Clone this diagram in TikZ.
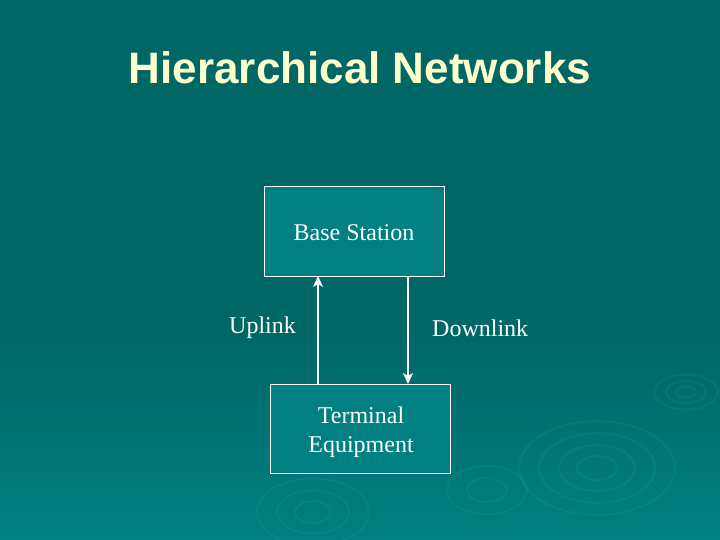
\documentclass[tikz,border=0pt]{standalone}
\usepackage{fontspec}
\setmainfont{Liberation Serif}
\newfontfamily\titlefont{Liberation Sans}
\definecolor{bgtop}{HTML}{006666}
\definecolor{bgbot}{HTML}{008080}
\definecolor{boxfill}{HTML}{008080}
\definecolor{titlecol}{HTML}{FFFFCC}
\usetikzlibrary{arrows.meta}
\tikzset{
  blockbox/.style={draw=white, line width=0.9pt, fill=boxfill, minimum width=180pt},
  blocktext/.style={text=white, font=\fontsize{24}{29}\selectfont, align=center, inner sep=0pt},
  linklabel/.style={text=white, font=\fontsize{24}{28}\selectfont, anchor=west, inner sep=0pt},
  linkarrow/.style={draw=white, line width=1.2pt, -{Stealth[length=11pt,width=10pt,inset=3pt]}},
  ripple/.style={draw=white, opacity=0.045, line width=2pt}
}
\begin{document}
\begin{tikzpicture}[x=1pt,y=-1pt]
\useasboundingbox (0,0) rectangle (720,540);
\fill[bgtop] (0,0) rectangle (720,330);
\shade[top color=bgtop, bottom color=bgbot] (0,329) rectangle (720,540);
% ripples
\foreach \r in {20,38,58,78}{\draw[ripple] (597,468) ellipse ({\r} and {\r*0.6});}
\foreach \r in {10,20,32}{\draw[ripple] (686,392) ellipse ({\r} and {\r*0.55});}
\foreach \r in {18,36,56}{\draw[ripple] (313,512) ellipse ({\r} and {\r*0.6});}
\foreach \r in {20,40}{\draw[ripple] (487,490) ellipse ({\r} and {\r*0.6});}
% title
\node[text=titlecol, font=\titlefont\bfseries\fontsize{44}{50}\selectfont] (title) at (360,68) {Hierarchical Networks};
% boxes
\node[blockbox, minimum height=90pt] (bs) at (354,231) {};
\node[blocktext] (bstext) at (354,233) {Base Station};
\node[blockbox, minimum height=89pt] (te) at (360,428.5) {};
\node[blocktext] (tetext) at (361,432) {Terminal\\Equipment};
% arrows
\coordinate (upA) at (318,384);
\coordinate (upB) at (318,276);
\coordinate (dnA) at (408,276);
\coordinate (dnB) at (408,384);
\draw[linkarrow] (upA) -- (upB);
\draw[linkarrow] (dnA) -- (dnB);
\node[linklabel] (ul) at (229,328) {Uplink};
\node[linklabel] (dl) at (432,328) {Downlink};
\end{tikzpicture}
\end{document}
